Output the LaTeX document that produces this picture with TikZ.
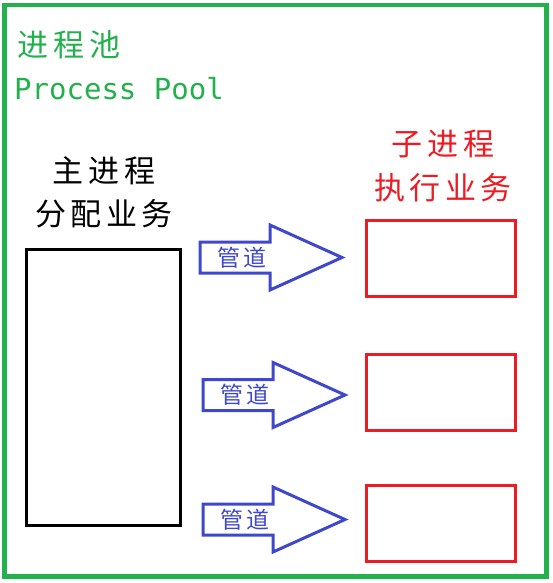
\documentclass[tikz,border=0pt]{standalone}
\usepackage{fontspec}
\newfontfamily\cjk[LetterSpace=15]{Noto Sans CJK SC}
\newfontfamily\lat{DejaVu Sans Mono}
\definecolor{poolgreen}{RGB}{34,177,76}
\definecolor{workred}{RGB}{237,28,36}
\definecolor{pipeblue}{RGB}{63,72,204}

\begin{document}
\begin{tikzpicture}[x=1pt, y=-1pt,
    box/.style={draw, line width=3pt, minimum width=149pt, minimum height=76pt, inner sep=0pt},
    big/.style={font=\cjk\fontsize{31}{43}\selectfont, align=center}]
  \useasboundingbox (0,0) rectangle (552,583);
  \draw[poolgreen, line width=4.5pt] (4.5,5) rectangle (546.5,576.5);
  \node[poolgreen, font=\cjk\fontsize{31}{36}\selectfont] (title) at (69,45) {进程池};
  \node[poolgreen, anchor=base, font=\lat\fontsize{29}{34}\selectfont] (titleen) at (119,100) {Process Pool};
  \node[big] (mastertext) at (104,192) {主进程\\分配业务};
  \node[box, minimum width=154pt, minimum height=276pt] (master) at (103,387) {};
  \node[big, workred, font=\cjk\fontsize{31}{44}\selectfont] (workertext) at (443,166) {子进程\\执行业务};
  \foreach \i/\yb/\xa/\ya in {1/258/200/257.5, 2/392/203/395, 3/523/203/519.5} {
    \node[box, workred] (worker\i) at (441,\yb) {};
    \draw[pipeblue, line width=3pt] (\xa,\ya-15.5) -| ++(70,-17) -- ++(72,32.5)
      -- ++(-72,32.5) |- (\xa,\ya+15.5) -- cycle;
    \node[pipeblue, font=\cjk\fontsize{23}{26}\selectfont] (pipe\i) at (\xa+42,\ya) {管道};
  }
\end{tikzpicture}
\end{document}
